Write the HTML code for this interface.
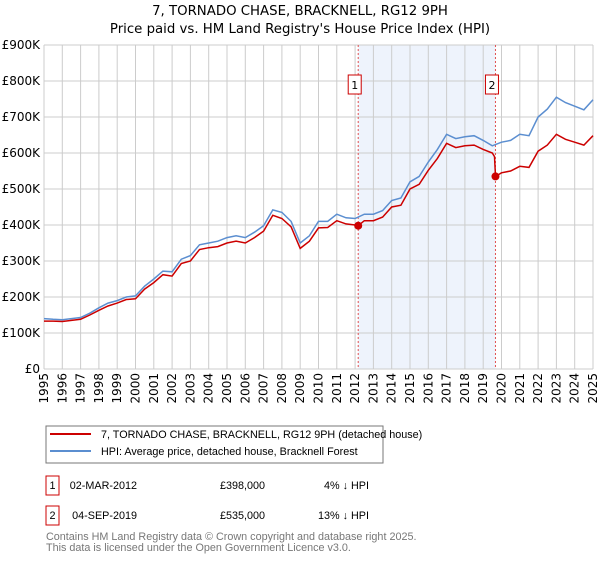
<!DOCTYPE html>
<html><head><meta charset="utf-8"><style>
body{margin:0;background:#fff;}
svg text{font-family:"DejaVu Sans","Liberation Sans",sans-serif;}
svg .lib{font-family:"Liberation Sans","DejaVu Sans",sans-serif;}
</style></head><body>
<svg id="chart" width="600" height="560" xmlns="http://www.w3.org/2000/svg">
<text x="300" y="15" text-anchor="middle" font-size="13.3" fill="#000">7, TORNADO CHASE, BRACKNELL, RG12 9PH</text>
<text x="300" y="33" text-anchor="middle" font-size="13.3" fill="#000">Price paid vs. HM Land Registry's House Price Index (HPI)</text>
<g id="plot"></g>
<g>
<rect x="46" y="426" width="337" height="37" fill="#fff" stroke="#777" stroke-width="1"/>
<line x1="50" y1="434" x2="91" y2="434" stroke="#cc0000" stroke-width="2"/>
<text class="lib" x="101" y="438" font-size="10.8" fill="#000">7, TORNADO CHASE, BRACKNELL, RG12 9PH (detached house)</text>
<line x1="50" y1="451" x2="91" y2="451" stroke="#5b8ed0" stroke-width="2"/>
<text class="lib" x="101" y="455" font-size="10.8" fill="#000">HPI: Average price, detached house, Bracknell Forest</text>
</g>
<g font-size="10.8" fill="#000" class="lib">
<rect x="46" y="476" width="13" height="19" fill="none" stroke="#cc0000"/>
<text class="lib" x="52.5" y="489" text-anchor="middle">1</text>
<text class="lib" x="137" y="489" text-anchor="end">02-MAR-2012</text>
<text class="lib" x="265" y="489" text-anchor="end">£398,000</text>
<text class="lib" x="369" y="489" text-anchor="end">4% ↓ HPI</text>
<rect x="46" y="506" width="13" height="19" fill="none" stroke="#cc0000"/>
<text class="lib" x="52.5" y="519" text-anchor="middle">2</text>
<text class="lib" x="137" y="519" text-anchor="end">04-SEP-2019</text>
<text class="lib" x="265" y="519" text-anchor="end">£535,000</text>
<text class="lib" x="369" y="519" text-anchor="end">13% ↓ HPI</text>
</g>
<text class="lib" x="46" y="540" font-size="10.8" fill="#777">Contains HM Land Registry data © Crown copyright and database right 2025.</text>
<text class="lib" x="46" y="551" font-size="10.8" fill="#777">This data is licensed under the Open Government Licence v3.0.</text>
</svg>
<script>
const hpiYears=[1995,1995.5,1996,1996.5,1997,1997.5,1998,1998.5,1999,1999.5,2000,2000.5,2001,2001.5,2002,2002.5,2003,2003.5,2004,2004.5,2005,2005.5,2006,2006.5,2007,2007.5,2008,2008.5,2009,2009.5,2010,2010.5,2011,2011.5,2012,2012.5,2013,2013.5,2014,2014.5,2015,2015.5,2016,2016.5,2017,2017.5,2018,2018.5,2019,2019.5,2020,2020.5,2021,2021.5,2022,2022.5,2023,2023.5,2024,2024.5,2025];
const hpiValues=[140,138,137,140,143,155,170,183,190,200,203,230,250,272,270,305,315,345,350,355,365,370,365,380,398,442,435,410,350,370,410,410,430,420,418,430,430,440,468,475,520,535,575,610,652,640,645,648,635,620,630,635,652,648,700,722,755,740,730,720,748];
const ppYears=[1995,1995.5,1996,1996.5,1997,1997.5,1998,1998.5,1999,1999.5,2000,2000.5,2001,2001.5,2002,2002.5,2003,2003.5,2004,2004.5,2005,2005.5,2006,2006.5,2007,2007.5,2008,2008.5,2009,2009.5,2010,2010.5,2011,2011.5,2012,2012.17,2012.5,2013,2013.5,2014,2014.5,2015,2015.5,2016,2016.5,2017,2017.5,2018,2018.5,2019,2019.5,2019.62,2019.67,2020,2020.5,2021,2021.5,2022,2022.5,2023,2023.5,2024,2024.5,2025];
const ppValues=[133,133,132,135,138,150,163,175,183,193,195,222,240,262,258,293,300,332,337,340,350,355,350,365,383,427,418,395,335,355,392,393,412,403,400,398,412,412,422,450,455,500,513,552,585,627,615,620,622,610,600,590,535,545,550,563,560,605,622,652,638,630,622,648];
const saleYears=[2012.17,2019.67];
const saleValues=[398,535];
const saleLabels=["1","2"];
const yTicks=[0,100,200,300,400,500,600,700,800,900];
const yTickLabels=["£0","£100K","£200K","£300K","£400K","£500K","£600K","£700K","£800K","£900K"];
const xTicks=[1995,1996,1997,1998,1999,2000,2001,2002,2003,2004,2005,2006,2007,2008,2009,2010,2011,2012,2013,2014,2015,2016,2017,2018,2019,2020,2021,2022,2023,2024,2025];

const L=44,R=593,T=45,B=369;
const x=v=>L+(v-1995)/(2025-1995)*(R-L);
const y=v=>B-v/900*(B-T);
const NS="http://www.w3.org/2000/svg";
const plot=document.getElementById('plot');
function mk(tag,attrs,parent){const e=document.createElementNS(NS,tag);for(const k in attrs)e.setAttribute(k,attrs[k]);(parent||plot).appendChild(e);return e;}

const bg=mk('rect',{x:L,y:T,width:R-L,height:B-T,fill:'#fff'});


const shade=mk('rect',{x:x(saleYears[0]),y:T,width:x(saleYears[1])-x(saleYears[0]),height:B-T,fill:'#eef3fc'});


yTicks.forEach((t,i)=>{
  const g=mk('line',{x1:L,x2:R,y1:y(t),y2:y(t),stroke:'#ccc','stroke-width':1});
  
  
  const tx=mk('text',{x:L-4,y:y(t)+4,'text-anchor':'end','font-size':12,fill:'#000'});
  tx.textContent=yTickLabels[i];
  
  
});
xTicks.forEach(t=>{
  const g=mk('line',{x1:x(t),x2:x(t),y1:T,y2:B,stroke:'#ccc','stroke-width':1});
  
  
  const tx=mk('text',{x:0,y:0,'text-anchor':'end','font-size':12,fill:'#000',transform:`translate(${x(t)+4},${B+4}) rotate(-90)`});
  tx.textContent=t;
  
  
});
saleYears.forEach((s,i)=>{
  const l=mk('line',{x1:x(s),x2:x(s),y1:T,y2:B,stroke:'#e05050','stroke-width':1,'stroke-dasharray':'2,2'});
  
  
});
function path(xs,vs,color,name){
  const d=xs.map((v,i)=>(i?'L':'M')+x(v).toFixed(1)+','+y(vs[i]).toFixed(1)).join('');
  const p=mk('path',{d:d,fill:'none',stroke:color,'stroke-width':1.5});
  
  
}
path(hpiYears,hpiValues,'#5b8ed0','hpi-line');
path(ppYears,ppValues,'#cc0000','price-paid-line');
saleYears.forEach((s,i)=>{
  const c=mk('circle',{cx:x(s),cy:y(saleValues[i]),r:4,fill:'#cc0000'});
  
  
  const bx=mk('rect',{x:x(s)-10,y:75,width:13,height:19,fill:'#fff',stroke:'#cc0000'});
  
  
  const tx=mk('text',{x:x(s)-3.5,y:89,'text-anchor':'middle','font-size':11,fill:'#000'});
  tx.textContent=saleLabels[i];
  
  
});
</script>
</body></html>
